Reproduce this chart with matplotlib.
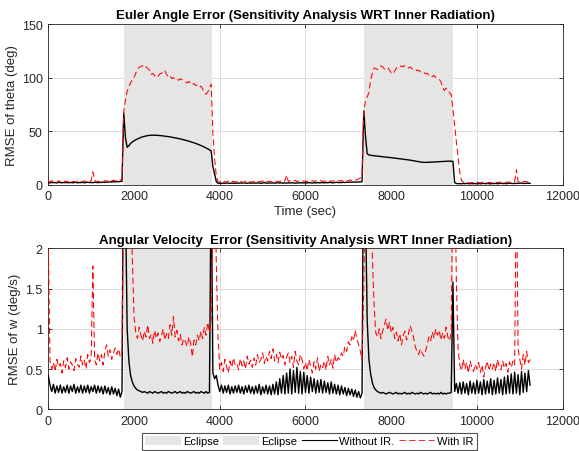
import numpy as np
import matplotlib
matplotlib.use("Agg")
import matplotlib.pyplot as plt
import matplotlib.patches as mpatches
from matplotlib.lines import Line2D

# sample times (sec), one sample every 40 s
t = np.arange(0, 11241, 40)

# eclipse windows (sec)
eclipses = [(1760, 3820), (7365, 9435)]

# RMSE of theta (deg)
theta_no_ir = [
    2.0, 1.8, 2.2, 1.9, 2.1, 1.7, 2.3, 2.0, 1.8, 2.2,
    2.0, 2.1, 1.8, 2.2, 1.9, 2.0, 2.3, 1.8, 2.1, 2.0,
    2.2, 1.9, 2.1, 2.4, 2.0, 2.2, 1.9, 2.3, 2.1, 2.0,
    2.3, 2.1, 2.5, 2.2, 2.6, 2.4, 2.8, 2.5, 2.9, 2.7,
    3.0, 2.8, 3.2, 3.1, 67.0, 44.0, 35.0, 36.5, 38.5, 40.0,
    41.0, 42.0, 42.8, 43.5, 44.2, 44.8, 45.2, 45.6, 45.9, 46.1,
    46.2, 46.3, 46.3, 46.2, 46.1, 46.0, 45.8, 45.6, 45.4, 45.2,
    45.0, 44.7, 44.4, 44.1, 43.8, 43.5, 43.1, 42.8, 42.4, 42.0,
    41.6, 41.2, 40.7, 40.2, 39.7, 39.2, 38.6, 38.0, 37.4, 36.7,
    36.0, 35.2, 34.4, 33.5, 32.6, 31.5, 17.0, 10.0, 3.0, 1.2,
    1.5, 1.3, 1.6, 1.4, 1.7, 1.5, 1.3, 1.6, 1.4, 1.5,
    1.6, 1.4, 1.7, 1.5, 1.8, 1.6, 1.4, 1.7, 1.5, 1.6,
    1.7, 1.5, 1.8, 1.6, 1.4, 1.7, 1.9, 1.6, 1.5, 1.8,
    1.6, 1.8, 1.5, 1.7, 1.9, 1.6, 1.8, 1.5, 1.7, 1.6,
    1.8, 1.6, 1.9, 1.7, 1.5, 1.8, 1.6, 1.9, 1.7, 1.8,
    1.9, 1.7, 2.0, 1.8, 1.6, 1.9, 1.7, 2.0, 1.8, 1.9,
    2.0, 1.8, 2.1, 1.9, 2.2, 2.0, 1.8, 2.1, 2.3, 2.0,
    2.2, 2.0, 2.3, 2.1, 2.4, 2.2, 2.5, 2.3, 2.6, 2.4,
    2.6, 2.5, 2.8, 2.7, 69.0, 45.0, 29.0, 27.8, 27.5, 27.3,
    27.1, 26.9, 26.7, 26.5, 26.3, 26.1, 25.9, 25.7, 25.6, 25.5,
    25.3, 25.1, 24.9, 24.7, 24.5, 24.3, 24.1, 23.9, 23.7, 23.5,
    23.3, 23.0, 22.7, 22.4, 22.1, 21.8, 21.5, 21.2, 21.0, 20.9,
    20.9, 20.9, 21.0, 21.1, 21.2, 21.3, 21.5, 21.6, 21.7, 21.8,
    21.9, 22.0, 22.0, 22.1, 22.1, 22.0, 21.8, 2.0, 1.2, 1.0,
    1.1, 0.9, 1.2, 1.0, 1.3, 1.1, 0.9, 1.2, 1.0, 1.1,
    1.0, 1.2, 0.9, 1.1, 1.3, 1.0, 1.2, 1.1, 0.9, 1.2,
    1.1, 1.3, 1.0, 1.2, 1.4, 1.1, 1.3, 1.0, 1.2, 1.4,
    1.3, 1.1, 1.4, 1.2, 1.5, 1.3, 1.6, 1.4, 1.2, 1.5,
    1.4, 1.3,
]
theta_ir = [
    3.5, 2.5, 4.0, 2.8, 3.2, 2.2, 3.8, 2.6, 3.0, 4.2,
    2.7, 3.4, 2.3, 3.9, 2.9, 3.1, 2.4, 3.6, 2.8, 3.3,
    2.6, 3.7, 2.9, 3.2, 2.5, 3.8, 12.0, 4.0, 2.8, 3.4,
    2.9, 3.6, 2.5, 3.9, 3.1, 4.2, 3.0, 3.7, 4.4, 3.5,
    4.1, 3.8, 4.6, 4.3, 68.0, 79.0, 87.0, 92.0, 95.0, 98.0,
    100.0, 104.0, 108.0, 109.5, 110.5, 111.0, 112.0, 110.0, 108.5, 107.0,
    103.0, 104.0, 101.5, 102.5, 101.0, 103.5, 104.0, 106.0, 106.5, 103.0,
    100.5, 101.5, 99.0, 100.0, 98.5, 99.0, 97.5, 99.0, 98.0, 97.0,
    96.0, 95.0, 96.5, 94.0, 93.5, 94.5, 92.5, 93.0, 91.0, 92.0,
    89.5, 86.0, 84.5, 86.5, 90.0, 94.0, 48.0, 24.0, 8.0, 3.0,
    2.6, 3.4, 2.2, 3.0, 2.5, 3.6, 2.3, 2.9, 3.3, 2.4,
    3.1, 2.5, 3.5, 2.7, 2.2, 3.3, 2.8, 3.6, 2.4, 3.0,
    2.6, 3.4, 2.3, 3.1, 2.8, 3.7, 2.5, 3.2, 2.9, 3.5,
    2.7, 3.3, 3.9, 2.6, 3.4, 3.0, 3.8, 2.8, 3.5, 9.0,
    3.1, 3.7, 4.3, 3.4, 4.2, 3.0, 3.6, 2.9, 3.8, 3.3,
    3.6, 2.9, 3.8, 3.2, 4.0, 3.1, 3.7, 2.8, 3.5, 3.9,
    3.0, 3.6, 3.3, 4.1, 2.9, 3.7, 3.4, 4.0, 3.2, 3.8,
    3.5, 4.2, 3.1, 3.9, 4.4, 3.6, 4.6, 3.8, 5.0, 4.3,
    4.8, 5.5, 6.5, 7.0, 70.0, 78.0, 82.0, 86.0, 98.0, 104.0,
    109.0, 108.5, 107.5, 109.0, 111.0, 110.0, 108.0, 108.5, 109.5, 107.0,
    104.5, 103.5, 106.0, 109.0, 108.5, 110.0, 111.0, 110.0, 111.5, 110.5,
    109.0, 110.0, 108.5, 107.5, 108.0, 106.5, 107.0, 105.5, 104.5, 105.0,
    103.5, 104.0, 102.5, 103.0, 101.0, 102.0, 100.0, 99.0, 98.5, 96.0,
    91.0, 88.0, 90.0, 88.5, 86.0, 84.0, 70.0, 56.0, 40.0, 26.0,
    12.0, 4.0, 2.5, 2.0, 1.8, 2.3, 1.6, 2.1, 1.9, 2.2,
    1.8, 2.2, 1.7, 2.4, 1.9, 2.1, 1.6, 2.3, 2.0, 1.8,
    2.1, 2.5, 1.9, 2.6, 2.2, 2.8, 2.4, 2.0, 2.7, 2.3,
    2.9, 2.5, 3.3, 14.0, 3.0, 2.6, 3.5, 2.8, 3.2, 2.7,
    2.4, 2.9,
]

# RMSE of w (deg/s)
w_no_ir = [
    0.42, 0.30, 0.22, 0.31, 0.20, 0.29, 0.21, 0.30, 0.20, 0.28,
    0.21, 0.30, 0.20, 0.29, 0.22, 0.31, 0.20, 0.28, 0.21, 0.30,
    0.20, 0.29, 0.21, 0.30, 0.20, 0.28, 0.22, 0.30, 0.20, 0.29,
    0.21, 0.28, 0.19, 0.29, 0.20, 0.27, 0.18, 0.28, 0.19, 0.26,
    0.17, 0.25, 0.15, 0.22, 4.0, 2.6, 1.0, 0.60, 0.42, 0.34,
    0.29, 0.26, 0.24, 0.23, 0.22, 0.21, 0.22, 0.21, 0.20, 0.22,
    0.21, 0.20, 0.22, 0.21, 0.20, 0.21, 0.22, 0.20, 0.21, 0.20,
    0.22, 0.21, 0.20, 0.21, 0.22, 0.20, 0.21, 0.22, 0.20, 0.21,
    0.20, 0.22, 0.21, 0.20, 0.21, 0.22, 0.20, 0.21, 0.20, 0.22,
    0.21, 0.20, 0.22, 0.20, 0.21, 3.0, 0.45, 0.38, 0.42, 0.30,
    0.22, 0.30, 0.20, 0.29, 0.21, 0.30, 0.19, 0.28, 0.20, 0.29,
    0.21, 0.30, 0.20, 0.28, 0.19, 0.29, 0.21, 0.30, 0.20, 0.28,
    0.19, 0.29, 0.20, 0.31, 0.18, 0.28, 0.20, 0.30, 0.19, 0.29,
    0.18, 0.31, 0.19, 0.34, 0.18, 0.38, 0.20, 0.42, 0.19, 0.45,
    0.20, 0.50, 0.19, 0.48, 0.21, 0.52, 0.20, 0.47, 0.19, 0.46,
    0.21, 0.42, 0.20, 0.40, 0.22, 0.38, 0.20, 0.36, 0.21, 0.37,
    0.20, 0.35, 0.21, 0.33, 0.19, 0.34, 0.20, 0.31, 0.19, 0.30,
    0.18, 0.29, 0.19, 0.27, 0.17, 0.26, 0.18, 0.25, 0.16, 0.24,
    0.15, 0.22, 0.14, 0.20, 4.0, 2.5, 1.1, 0.62, 0.44, 0.33,
    0.27, 0.24, 0.22, 0.21, 0.20, 0.21, 0.20, 0.19, 0.20, 0.21,
    0.20, 0.19, 0.20, 0.21, 0.19, 0.20, 0.19, 0.20, 0.21, 0.19,
    0.20, 0.19, 0.21, 0.20, 0.19, 0.20, 0.19, 0.21, 0.20, 0.19,
    0.20, 0.19, 0.20, 0.21, 0.19, 0.20, 0.19, 0.20, 0.19, 0.21,
    0.19, 0.20, 0.19, 0.20, 0.20, 0.21, 1.58, 0.22, 0.32, 0.20,
    0.33, 0.19, 0.34, 0.20, 0.32, 0.18, 0.35, 0.20, 0.33, 0.19,
    0.36, 0.20, 0.34, 0.18, 0.37, 0.19, 0.35, 0.20, 0.38, 0.18,
    0.36, 0.19, 0.39, 0.20, 0.37, 0.18, 0.40, 0.19, 0.42, 0.20,
    0.44, 0.19, 0.46, 0.20, 0.43, 0.18, 0.47, 0.21, 0.45, 0.22,
    0.48, 0.30,
]
w_ir = [
    2.1, 0.60, 0.50, 0.58, 0.47, 0.62, 0.53, 0.57, 0.45, 0.60,
    0.52, 0.64, 0.50, 0.59, 0.55, 0.48, 0.63, 0.56, 0.52, 0.66,
    0.55, 0.61, 0.50, 0.68, 0.58, 0.63, 1.78, 0.62, 0.55, 0.70,
    0.60, 0.68, 0.55, 0.72, 0.80, 0.66, 0.74, 0.62, 0.70, 0.76,
    0.68, 0.75, 0.65, 0.72, 3.0, 3.0, 3.0, 3.0, 2.5, 1.9,
    1.15, 0.95, 0.88, 1.02, 0.92, 0.85, 0.97, 0.90, 1.05, 0.88,
    0.93, 0.82, 0.98, 0.88, 0.95, 0.84, 0.91, 1.00, 0.86, 0.94,
    0.88, 1.05, 0.92, 1.15, 0.90, 0.98, 0.85, 0.93, 0.80, 0.88,
    0.84, 0.78, 0.90, 0.82, 0.65, 0.86, 0.80, 0.92, 0.85, 0.97,
    0.88, 1.02, 0.92, 1.08, 0.95, 1.12, 2.5, 3.0, 1.8, 0.90,
    0.50, 0.58, 0.47, 0.62, 0.53, 0.45, 0.60, 0.52, 0.64, 0.55,
    0.57, 0.49, 0.63, 0.54, 0.60, 0.50, 0.66, 0.56, 0.61, 0.52,
    0.64, 0.55, 0.68, 0.58, 0.62, 0.70, 0.57, 0.66, 0.60, 0.72,
    0.63, 0.75, 0.60, 0.68, 0.58, 0.71, 0.62, 0.67, 0.55, 0.65,
    0.70, 0.58, 0.66, 0.52, 0.72, 0.60, 0.55, 0.68, 0.62, 0.50,
    0.58, 0.48, 0.62, 0.53, 0.45, 0.59, 0.50, 0.64, 0.47, 0.56,
    0.52, 0.60, 0.49, 0.66, 0.55, 0.62, 0.51, 0.68, 0.58, 0.64,
    0.62, 0.70, 0.66, 0.78, 0.72, 0.84, 0.80, 0.90, 0.85, 0.98,
    0.88, 0.80, 0.72, 0.62, 1.5, 3.0, 3.0, 3.0, 3.0, 1.9,
    1.30, 0.95, 0.90, 1.00, 0.88, 0.97, 1.05, 1.12, 0.98, 1.08,
    0.95, 1.02, 0.88, 0.96, 0.85, 0.94, 0.80, 0.92, 0.97, 0.86,
    0.93, 1.04, 0.98, 0.90, 0.78, 0.72, 0.68, 0.75, 0.70, 0.66,
    0.72, 0.80, 0.90, 0.85, 0.96, 0.88, 1.00, 0.92, 0.98, 0.86,
    0.95, 0.88, 1.02, 0.90, 0.85, 0.96, 3.0, 3.0, 1.6, 0.75,
    0.55, 0.48, 0.62, 0.50, 0.58, 0.45, 0.60, 0.52, 0.47, 0.56,
    0.50, 0.58, 0.46, 0.55, 0.40, 0.52, 0.60, 0.48, 0.56, 0.50,
    0.58, 0.47, 0.62, 0.53, 0.49, 0.60, 0.51, 0.57, 0.46, 0.59,
    0.52, 0.60, 0.55, 3.0, 0.75, 0.62, 0.50, 0.68, 0.55, 0.72,
    0.58, 0.62,
]

plt.rcParams["font.family"] = ["Liberation Sans", "DejaVu Sans"]
plt.rcParams["font.size"] = 8.5
plt.rcParams["axes.edgecolor"] = "#262626"
plt.rcParams["axes.linewidth"] = 0.6
plt.rcParams["xtick.direction"] = "in"
plt.rcParams["ytick.direction"] = "in"
plt.rcParams["xtick.top"] = True
plt.rcParams["ytick.right"] = True
plt.rcParams["xtick.major.size"] = 3
plt.rcParams["ytick.major.size"] = 3
plt.rcParams["xtick.major.width"] = 0.6
plt.rcParams["ytick.major.width"] = 0.6
plt.rcParams["xtick.color"] = "#262626"
plt.rcParams["ytick.color"] = "#262626"
plt.rcParams["lines.scale_dashes"] = False

ECL = "#e5e5e5"
DASH = (0, (4.5, 2.5))

fig = plt.figure(figsize=(5.79, 4.52), dpi=100)
ax1 = fig.add_axes([0.0834, 0.589, 0.8884, 0.3556])
ax2 = fig.add_axes([0.0834, 0.0923, 0.8884, 0.3562])

panels = [
    (ax1, theta_no_ir, theta_ir, (0, 150), [0, 50, 100, 150],
     "Euler Angle Error (Sensitivity Analysis WRT Inner Radiation)", "RMSE of theta (deg)"),
    (ax2, w_no_ir, w_ir, (0, 2), [0, 0.5, 1, 1.5, 2],
     "Angular Velocity  Error (Sensitivity Analysis WRT Inner Radiation)", "RMSE of w (deg/s)"),
]

for ax, y_no, y_ir, ylim, yticks, title, ylabel in panels:
    ax.set_axisbelow(True)
    ax.grid(True, color="#dcdcdc", linewidth=0.7)
    for a, b in eclipses:
        ax.axvspan(a, b, color=ECL, lw=0, zorder=1)
    ax.plot(t, y_no, color="black", lw=1.0, zorder=3)
    ax.plot(t, y_ir, color="red", lw=0.75, linestyle=DASH, zorder=4)
    ax.set_xlim(0, 12000)
    ax.set_ylim(*ylim)
    ax.set_xticks([0, 2000, 4000, 6000, 8000, 10000, 12000])
    ax.set_yticks(yticks)
    ax.set_yticklabels([f"{v:g}" for v in yticks])
    ax.set_title(title, fontweight="bold", fontsize=9.5, pad=4)
    ax.set_ylabel(ylabel, fontsize=9.5, color="#262626", labelpad=3)
    ax.tick_params(labelsize=9, pad=4)

ax1.set_xlabel("Time (sec)", fontsize=9.5, color="#262626", labelpad=2)

handles = [
    mpatches.Patch(facecolor=ECL, edgecolor="none"),
    mpatches.Patch(facecolor=ECL, edgecolor="none"),
    Line2D([], [], color="black", lw=0.8),
    Line2D([], [], color="red", lw=0.6, linestyle=DASH),
]
labels = ["Eclipse", "Eclipse", "Without IR.", "With IR"]
leg = fig.legend(handles, labels, loc="center", bbox_to_anchor=(0.534, 0.022), ncol=4,
                 fontsize=8, frameon=True, fancybox=False, edgecolor="#262626",
                 handlelength=3.2, handleheight=0.9, handletextpad=0.2, columnspacing=0.4,
                 borderpad=0.3, borderaxespad=0)
leg.get_frame().set_linewidth(0.8)

fig.savefig("out.png", dpi=100)
